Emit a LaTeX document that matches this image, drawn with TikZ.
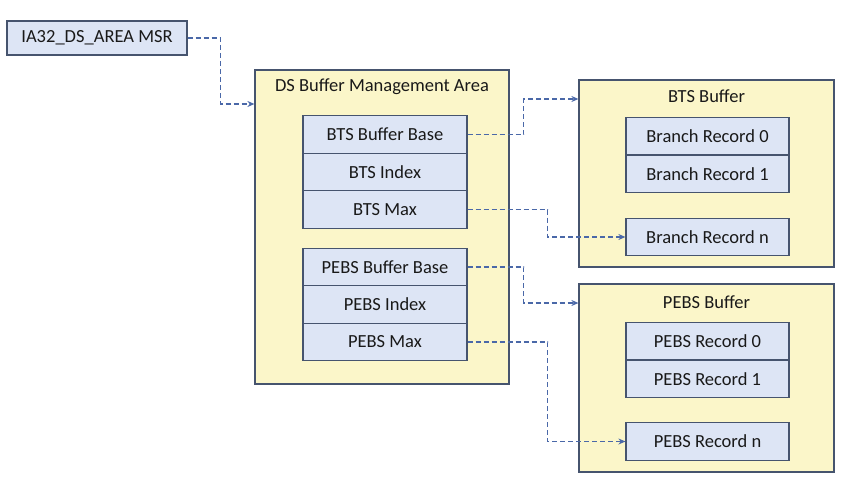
\documentclass[tikz,border=0pt]{standalone}
\usepackage{fontspec}
\setmainfont{Carlito}
\usetikzlibrary{arrows.meta}
\definecolor{yel}{HTML}{FBF6C9}
\definecolor{blu}{HTML}{DDE5F5}
\definecolor{bord}{HTML}{46546E}
\definecolor{arr}{HTML}{4A68A8}
\begin{document}
\begin{tikzpicture}[x=1pt,y=-1pt,
  font=\fontsize{18.5}{21}\selectfont,
  outer/.style={draw=bord,fill=yel,line width=1.2pt,inner sep=0pt},
  cell/.style={draw=bord,fill=blu,line width=1.2pt,inner sep=0pt,minimum width=164pt,minimum height=37.5pt,text=black!90},
  title/.style={inner sep=0pt,text=black!90},
  conn/.style={draw=arr,line width=1.2pt,dash pattern=on 5pt off 3pt,-{Stealth[length=7pt,width=6pt]}}]
\useasboundingbox (0,0) rectangle (845,487);
% IA32 box
\node[cell,minimum width=180pt,minimum height=34pt] (ia) at (97,38) {IA32\_DS\_AREA MSR};
% DS area
\node[outer,minimum width=254pt,minimum height=314pt] (ds) at (382,227) {};
\node[title] (dst) at (382,87) {DS Buffer Management Area};
\node[cell] (bts1) at (385,134.5) {BTS Buffer Base};
\node[cell] (bts2) at (385,172) {BTS Index};
\node[cell] (bts3) at (385,209.5) {BTS Max};
\node[cell] (pebs1) at (385,267) {PEBS Buffer Base};
\node[cell] (pebs2) at (385,304.5) {PEBS Index};
\node[cell] (pebs3) at (385,342) {PEBS Max};
% BTS buffer
\node[outer,minimum width=255pt,minimum height=187pt] (btsbuf) at (706.5,173.5) {};
\node[title] (btst) at (706.5,96) {BTS Buffer};
\node[cell,minimum width=163pt] (br0) at (707.5,136) {Branch Record 0};
\node[cell,minimum width=163pt] (br1) at (707.5,174) {Branch Record 1};
\node[cell,minimum width=163pt] (brn) at (707.5,237) {Branch Record n};
% PEBS buffer
\node[outer,minimum width=255pt,minimum height=188pt] (pebsbuf) at (706.5,378) {};
\node[title] (pebst) at (706.5,302) {PEBS Buffer};
\node[cell,minimum width=163pt] (pr0) at (707.5,341) {PEBS Record 0};
\node[cell,minimum width=163pt] (pr1) at (707.5,379) {PEBS Record 1};
\node[cell,minimum width=163pt] (prn) at (707.5,441.5) {PEBS Record n};
% connectors
\draw[conn] (ia.east) -- ++(33,0) |- (ds.west |- 0,104);
\draw[conn] (bts1.east) -- ++(56,0) |- (btsbuf.west |- 0,99);
\draw[conn] (bts3.east) -- ++(80,0) |- (brn.west);
\draw[conn] (pebs1.east) -- ++(56,0) |- (pebsbuf.west |- 0,303);
\draw[conn] (pebs3.east) -- ++(80,0) |- (prn.west);
\end{tikzpicture}
\end{document}
